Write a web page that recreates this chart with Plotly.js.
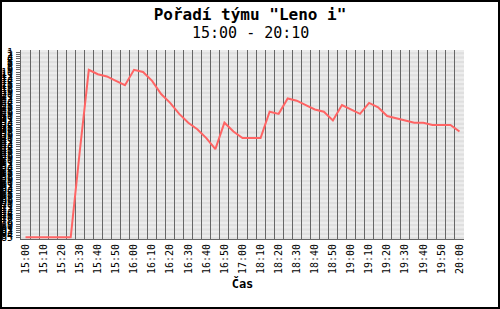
<!DOCTYPE html>
<html>
<head>
<meta charset="utf-8">
<script src="https://cdn.plot.ly/plotly-3.0.1.min.js"></script>
<style>
  html, body { margin: 0; padding: 0; background: #fff; }
  #wrap { position: relative; width: 500px; height: 309px; }
  #chart { width: 500px; height: 309px; }
  #frame { position: absolute; left: 0; top: 0; width: 500px; height: 309px; box-sizing: border-box; border: 2px solid #000; pointer-events: none; }
</style>
</head>
<body>
<div id="wrap"><div id="chart"></div><div id="frame"></div></div>
<script>
// Time categories (5-minute samples; gap between 17:00 and 18:05)
const times = [
  "15:00","15:05","15:10","15:15","15:20","15:25","15:30","15:35","15:40","15:45",
  "15:50","15:55","16:00","16:05","16:10","16:15","16:20","16:25","16:30","16:35",
  "16:40","16:45","16:50","16:55","17:00","18:05","18:10","18:15","18:20","18:25",
  "18:30","18:35","18:40","18:45","18:50","18:55","19:00","19:05","19:10","19:15",
  "19:20","19:25","19:30","19:35","19:40","19:45","19:50","19:55","20:00"
];
// Labels shown on the time axis
const shownLabels = [
  "15:00","15:10","15:20","15:30","15:40","15:50","16:00","16:10","16:20","16:30",
  "16:40","16:50","17:00","18:10","18:20","18:30","18:40","18:50","19:00","19:10",
  "19:20","19:30","19:40","19:50","20:00"
];
// Team rank at each sample
const rank = [
  85,85,85,85,85,85,46,9,11,12,
  14,16,9,10,14,20,24,29,33,36,
  40,45,33,37,40,40,40,28,29,22,
  23,25,27,28,32,25,27,29,24,26,
  30,31,32,33,33,34,34,34,37
];
// Rank tick values on the vertical axis
const rankTicks = [];
for (let r = 1; r <= 85; r++) rankTicks.push(r);

const tickText = times.map(t => shownLabels.includes(t) ? t : "");

const shapes = [];
for (let k = 0; k < 86; k++) {
  shapes.push({
    type: "rect", xref: "paper", yref: "y", x0: 0, x1: 1, y0: k, y1: k + 1,
    fillcolor: (k % 2 === 0) ? "#ececec" : "#dfdfdf", line: {width: 0}, layer: "below"
  });
}

const trace = {
  x: times, y: rank, type: "scatter", mode: "lines",
  line: {color: "#ff6464", width: 2}, hoverinfo: "skip"
};

const mono = "DejaVu Sans Mono, monospace";
const layout = {
  width: 500, height: 309,
  margin: {l: 21, r: 36, t: 50, b: 70},
  paper_bgcolor: "#ffffff", plot_bgcolor: "#e6e6e6",
  showlegend: false,
  title: {
    text: "<b>Pořadí týmu \"Leno i\"</b>",
    font: {family: mono, size: 16, color: "#000"},
    x: 0.5, xref: "container", y: 1 - 14/309, yref: "container", yanchor: "middle"
  },
  annotations: [{
    text: "15:00 - 20:10", xref: "paper", yref: "paper",
    x: (250 - 21) / 443, y: 1 + 17 / 189, xanchor: "center", yanchor: "middle",
    showarrow: false, font: {family: mono, size: 15, color: "#000"}
  }],
  xaxis: {
    type: "category", categoryorder: "array", categoryarray: times,
    range: [-0.5, times.length - 0.5],
    tickmode: "array", tickvals: times, ticktext: tickText,
    tickson: "boundaries", tickangle: -90,
    ticks: "", showgrid: true, gridcolor: "#666666", gridwidth: 1,
    showline: true, linecolor: "#666666", linewidth: 1,
    tickfont: {family: mono, size: 10, color: "#000"},
    title: {text: "<b>Čas</b>", font: {family: mono, size: 12, color: "#000"}, standoff: 6},
    fixedrange: true
  },
  yaxis: {
    range: [85.8, 0], autorange: false,
    tickmode: "array", tickvals: rankTicks, ticktext: rankTicks.map(String),
    ticks: "outside", ticklen: 4, tickcolor: "#666666", ticklabelstandoff: 1,
    showgrid: false, zeroline: false,
    showline: true, linecolor: "#666666", linewidth: 1,
    tickfont: {family: mono, size: 10, color: "#000"},
    fixedrange: true
  },
  shapes: shapes
};

Plotly.newPlot("chart", [trace], layout, {displayModeBar: false, staticPlot: true});
</script>
</body>
</html>
